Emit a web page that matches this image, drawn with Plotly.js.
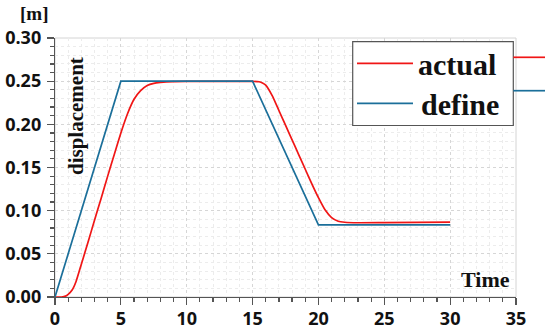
<!DOCTYPE html>
<html>
<head>
<meta charset="utf-8">
<script src="https://cdn.plot.ly/plotly-3.0.1.min.js"></script>
<style>html,body{margin:0;padding:0;background:#fff;}#chart{width:550px;height:335px;}</style>
</head>
<body>
<div id="chart"></div>
<script>
// ---- data ----
const timeDefine = [0, 5, 15, 20, 30];
const dispDefine = [0, 0.25, 0.25, 0.0835, 0.0835];

const timeActual = [0, 0.5, 0.8, 1.0, 1.3, 1.6, 2.0, 2.5, 3.0, 3.5, 4.0, 4.5, 5.0, 5.5, 6.0, 6.5, 7.0, 7.5, 8.0, 9.0, 10, 12, 15, 15.5, 15.75, 16, 16.5, 17, 17.5, 18, 18.5, 19, 19.5, 20, 20.5, 21, 21.5, 22, 23, 25, 30];
const dispActual = [0, 0, 0.001, 0.003, 0.008, 0.018, 0.038, 0.063, 0.089, 0.114, 0.14, 0.165, 0.19, 0.212, 0.229, 0.239, 0.245, 0.2475, 0.2485, 0.2495, 0.2497, 0.2498, 0.2498, 0.2493, 0.248, 0.2455, 0.233, 0.216, 0.199, 0.182, 0.165, 0.148, 0.131, 0.115, 0.101, 0.092, 0.0878, 0.0866, 0.0860, 0.0862, 0.0868];

const seriesNames = ['actual', 'define'];
const xTitle = 'Time';
const yTitle = 'displacement';
const yUnit = '[m]';

// ---- styling ----
const RED = '#f01616';
const BLUE = '#1b6f9a';
const serif = 'Liberation Serif, Times New Roman, serif';
const sans = 'Open Sans, sans-serif';

// plot-area pixel frame (for decorations)
const L = 55, R = 516, T = 38, B = 297;
const px = x => (x - L) / (R - L);
const py = y => (B - y) / (B - T);

const traces = [
  {x: timeActual, y: dispActual, name: seriesNames[0], mode: 'lines', line: {color: RED, width: 1.7, shape: 'spline', smoothing: 0.5}},
  {x: timeDefine, y: dispDefine, name: seriesNames[1], mode: 'lines', line: {color: BLUE, width: 1.7}}
];

const axisCommon = {
  showline: true, linecolor: '#555', linewidth: 1.2,
  ticks: 'outside', tickcolor: '#555', tickwidth: 1.2, ticklen: 7,
  showgrid: true, gridcolor: '#d6d6d6', griddash: 'dot', gridwidth: 1,
  zeroline: false,
  tickfont: {family: sans, size: 18, color: '#111', weight: 'bold'}
};

const layout = {
  width: 550, height: 335,
  margin: {l: L, r: 550 - R, t: T, b: 335 - B, pad: 0},
  paper_bgcolor: '#fff', plot_bgcolor: '#fff',
  showlegend: false,
  xaxis: Object.assign({}, axisCommon, {
    range: [0, 35], dtick: 5, tick0: 0,
    ticklabelstandoff: -2,
    minor: {dtick: 1, ticks: 'outside', ticklen: 4, tickcolor: '#555', showgrid: true, gridcolor: '#ececec', griddash: 'dot'}
  }),
  yaxis: Object.assign({}, axisCommon, {
    range: [0, 0.30], dtick: 0.05, tick0: 0, tickformat: '.2f',
    ticklabelstandoff: 2,
    minor: {dtick: 0.01, ticks: 'outside', ticklen: 4, tickcolor: '#555', showgrid: true, gridcolor: '#ececec', griddash: 'dot'}
  }),
  shapes: [
    // plot frame (top/right light border)
    {type: 'rect', xref: 'paper', yref: 'paper', x0: 0, x1: 1, y0: 0, y1: 1, line: {color: '#d4d4d4', width: 1}, layer: 'below'},
    // legend box
    {type: 'rect', xref: 'paper', yref: 'paper', x0: px(352.7), x1: px(513.3), y0: py(125.5), y1: py(41.7), line: {color: '#555', width: 1.2}, fillcolor: '#fff', layer: 'above'},
    {type: 'line', xref: 'paper', yref: 'paper', x0: px(357), x1: px(413), y0: py(63.3), y1: py(63.3), line: {color: RED, width: 1.7}},
    {type: 'line', xref: 'paper', yref: 'paper', x0: px(357), x1: px(413), y0: py(103.3), y1: py(103.3), line: {color: BLUE, width: 1.7}},
    {type: 'line', xref: 'paper', yref: 'paper', x0: px(513.3), x1: px(545), y0: py(57.3), y1: py(57.3), line: {color: RED, width: 1.7}},
    {type: 'line', xref: 'paper', yref: 'paper', x0: px(513.3), x1: px(545), y0: py(90.7), y1: py(90.7), line: {color: BLUE, width: 1.7}}
  ],
  annotations: [
    {text: seriesNames[0], xref: 'paper', yref: 'paper', x: px(416), y: py(64), xanchor: 'left', yanchor: 'middle', showarrow: false, font: {family: serif, size: 30, color: '#111', weight: 'bold'}},
    {text: seriesNames[1], xref: 'paper', yref: 'paper', x: px(419), y: py(104), xanchor: 'left', yanchor: 'middle', showarrow: false, font: {family: serif, size: 30, color: '#111', weight: 'bold'}},
    {text: yTitle, xref: 'paper', yref: 'paper', x: px(76), y: py(116), textangle: -90, xanchor: 'center', yanchor: 'middle', showarrow: false, font: {family: serif, size: 21, color: '#111', weight: 'bold'}},
    {text: yUnit, xref: 'paper', yref: 'paper', x: px(34), y: py(14), xanchor: 'center', yanchor: 'middle', showarrow: false, font: {family: serif, size: 19, color: '#111', weight: 'bold'}},
    {text: xTitle, xref: 'paper', yref: 'paper', x: px(485), y: py(279), xanchor: 'center', yanchor: 'middle', showarrow: false, font: {family: serif, size: 22, color: '#111', weight: 'bold'}}
  ]
};

Plotly.newPlot('chart', traces, layout, {staticPlot: true, displayModeBar: false});
</script>
</body>
</html>
